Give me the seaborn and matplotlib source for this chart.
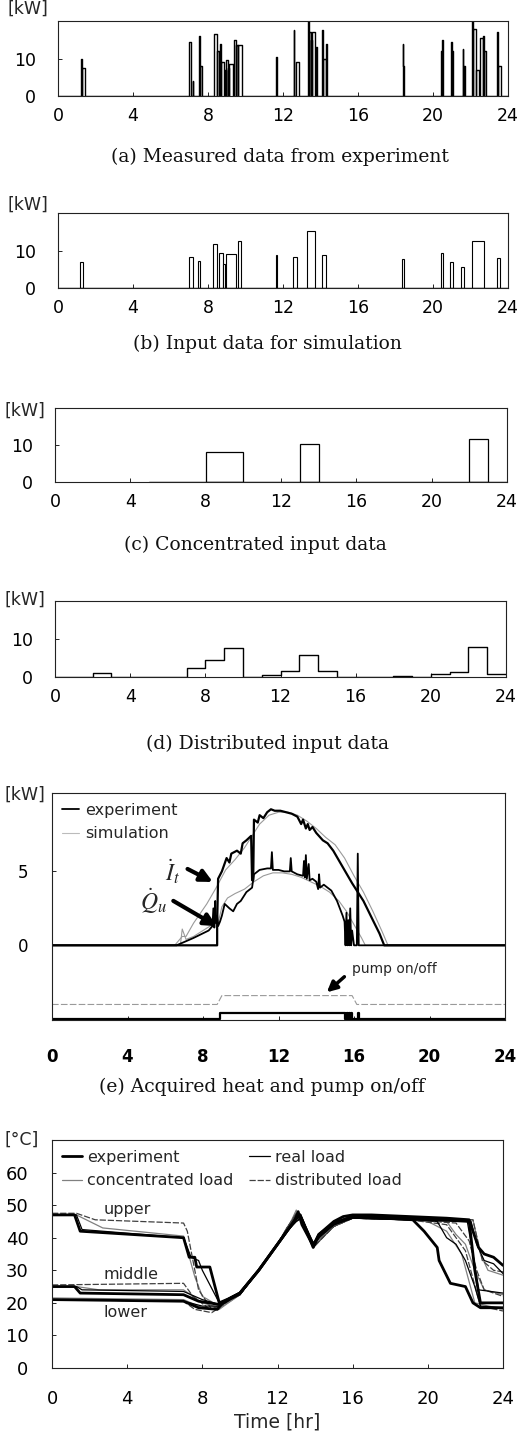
import matplotlib
matplotlib.use("Agg")
import matplotlib.pyplot as plt
from matplotlib.lines import Line2D
import seaborn as sns

sns.set_style("ticks")
plt.rcParams['font.family'] = ['DejaVu Sans']
plt.rcParams['mathtext.fontset'] = 'stix'

W, H = 518, 1437
hours = list(range(0, 25, 4))

# (a) measured load pulses: start [hr], end [hr], power [kW]
a_start = [1.24, 1.30, 7.00, 7.18, 7.52, 7.58, 8.33, 8.48, 8.63, 8.70, 8.90, 8.96, 9.05, 9.12,
           9.36, 9.50, 9.62, 11.65, 12.57, 12.68, 13.33, 13.40, 13.47, 13.56, 13.75, 14.08, 14.15,
           14.31, 18.38, 18.42, 20.42, 20.50, 20.96, 21.02, 21.58, 21.64, 22.08, 22.14, 22.30,
           22.48, 22.66, 22.72, 23.42, 23.48]
a_end = [1.30, 1.45, 7.08, 7.22, 7.56, 7.70, 8.48, 8.58, 8.67, 8.86, 8.96, 9.05, 9.12, 9.35,
         9.47, 9.60, 9.82, 11.70, 12.61, 12.84, 13.37, 13.47, 13.56, 13.72, 13.80, 14.12, 14.28,
         14.35, 18.42, 18.46, 20.47, 20.55, 21.00, 21.06, 21.62, 21.70, 22.12, 22.28, 22.47,
         22.66, 22.72, 22.83, 23.46, 23.60]
a_kw = [10, 7.5, 14.3, 4, 16, 8, 16.5, 12, 14, 9, 7, 9.5, 7.5, 8.5,
        15, 13.5, 13.5, 10.5, 17.5, 9, 20, 17, 15, 17, 13, 17.5, 10,
        14, 14, 8, 12, 15, 14.5, 12, 12.5, 8, 20, 18, 7,
        15.5, 16, 12, 17, 8]

# (b) input data for simulation
b_start = [1.17, 7.00, 7.45, 8.26, 8.56, 8.80, 8.94, 9.60, 11.60, 12.55, 13.30, 14.06, 18.37,
           20.44, 20.92, 21.50, 22.10, 23.40]
b_end = [1.33, 7.18, 7.59, 8.47, 8.78, 8.92, 9.50, 9.77, 11.70, 12.77, 13.70, 14.27, 18.44,
         20.53, 21.06, 21.63, 22.70, 23.58]
b_kw = [7.0, 8.2, 7.1, 11.8, 9.3, 6.5, 9.1, 12.6, 8.9, 8.2, 15.1, 8.7, 7.8, 9.4, 6.9, 5.6, 12.6, 8.1]

# (c) concentrated input
c_start = [8, 13, 22]
c_end = [10, 14, 23]
c_kw = [8.0, 10.2, 11.5]

# (d) distributed input, hourly
d_hour = list(range(24))
d_kw = [0, 0, 1.1, 0, 0, 0, 0, 2.4, 4.6, 7.7, 0, 0.6, 1.6, 5.9, 1.6, 0, 0, 0, 0.3, 0, 0.9, 1.3, 8.0, 0.9]

# (e) acquired heat
it_exp_t = [0, 8.75, 8.75, 8.8, 9.0, 9.25, 9.4, 9.5, 9.8, 10.0, 10.1, 10.3, 10.55, 10.6, 10.66, 10.7,
            10.9, 11.0, 11.2, 11.4, 11.6, 11.8, 12.1, 12.4, 12.7, 13.0, 13.2, 13.3, 13.45, 13.55,
            13.65, 13.8, 14.0, 14.35, 14.6, 14.9, 15.4, 15.9, 16.5, 17.0, 17.35, 17.6, 24]
it_exp_v = [0, 0, 1.5, 4.5, 5.0, 5.9, 5.6, 6.2, 6.4, 6.2, 6.9, 7.1, 7.4, 4.4, 4.4, 8.5,
            8.3, 8.8, 8.6, 9.0, 9.2, 9.1, 9.1, 9.0, 8.9, 8.7, 8.2, 8.5, 7.9, 8.2,
            7.8, 8.0, 7.6, 7.1, 6.9, 6.4, 5.3, 4.2, 3.0, 1.7, 0.8, 0, 0]
it_sim_t = [0, 6.5, 6.9, 7.1, 7.5, 8.2, 8.7, 9.2, 9.7, 10.2, 10.7, 11.0, 11.5, 12.0, 12.5,
            13.0, 13.5, 14.0, 14.5, 15.0, 15.5, 16.0, 16.5, 17.0, 17.5, 17.8, 24]
it_sim_v = [0, 0, 0.6, 0.6, 1.5, 2.8, 3.9, 5.1, 5.8, 6.6, 7.6, 8.2, 8.8, 9.0, 9.0,
            8.8, 8.4, 7.9, 7.3, 6.8, 5.9, 4.7, 3.6, 2.3, 0.9, 0, 0]
qu_exp_t = [0, 6.6, 7.5, 8.3, 8.5, 8.55, 8.6, 8.65, 8.7, 8.75, 8.8, 8.9, 9.0, 9.15, 9.4, 9.6,
            9.8, 10.0, 10.3, 10.6, 10.7, 11.0, 11.4, 11.6, 11.65, 11.7, 12.0, 12.3, 12.6, 12.65,
            12.7, 13.0, 13.3, 13.35, 13.4, 13.45, 13.5, 13.6, 13.65, 13.8, 14.0, 14.1, 14.15, 14.2,
            14.4, 14.8, 15.1, 15.4, 15.5, 15.55, 15.6, 15.65, 15.7, 15.75, 15.8, 15.85, 15.9, 16.0,
            16.15, 16.2, 16.25, 24]
qu_exp_v = [0, 0, 0.5, 1.0, 1.3, 2.5, 1.2, 3.0, 1.5, 2.0, 1.3, 1.6, 2.0, 2.8, 2.5, 2.3,
            2.8, 3.0, 3.6, 3.9, 4.8, 5.1, 5.2, 5.2, 6.3, 5.1, 5.1, 5.0, 5.0, 5.9,
            5.0, 4.8, 4.7, 5.7, 4.6, 6.1, 4.5, 5.5, 4.4, 4.5, 4.3, 3.8, 4.8, 3.9,
            4.1, 3.7, 3.0, 2.0, 1.6, 0, 2.2, 0, 1.7, 0, 2.5, 0, 1.0, 0,
            0, 6.2, 0, 0]
qu_sim_t = [0, 6.8, 6.9, 7.1, 7.5, 8.0, 8.5, 8.8, 9.0, 9.3, 9.7, 10.2, 10.7, 11.2, 11.7, 12.2,
            12.7, 13.2, 13.7, 14.2, 14.7, 15.2, 15.6, 16.0, 16.4, 16.6, 24]
qu_sim_v = [0, 0, 1.1, 0.4, 0.6, 1.0, 1.4, 1.5, 2.6, 3.2, 3.5, 3.8, 4.3, 4.7, 4.9, 4.9,
            4.8, 4.6, 4.3, 4.0, 3.6, 3.0, 2.3, 1.4, 0.5, 0, 0]
pump_exp_t = [0, 8.9, 15.5, 15.55, 15.6, 15.65, 15.7, 15.75, 15.8, 15.85, 15.9, 16.2, 16.25, 24]
pump_exp_v = [-5.0, -4.6, -5.0, -4.6, -5.0, -4.6, -5.0, -4.6, -5.0, -4.6, -5.0, -4.6, -5.0, -5.0]
pump_sim_t = [0, 8.75, 9.0, 15.9, 16.15, 24]
pump_sim_v = [-4.0, -4.0, -3.4, -3.4, -4.0, -4.0]

# (f) tank temperatures
up_exp_t = [0, 1.2, 1.5, 7.0, 7.3, 7.6, 7.7, 8.4, 8.9, 9.5, 10.0, 10.5, 11.0, 11.5, 12.0, 12.5,
            12.9, 13.1, 13.3, 13.9, 14.2, 14.5, 15.0, 15.5, 16.0, 17.0, 19.0, 21.0, 22.2, 22.4,
            22.7, 23.0, 23.5, 24.0]
up_exp_v = [47, 47, 42, 40, 34, 34, 31, 31, 20, 21.5, 23, 26.5, 30, 34, 38, 42,
            45, 48, 44, 37.5, 41, 42.5, 45, 46.5, 47, 47, 46.5, 46, 45.5, 42,
            37, 35, 34, 31.5]
up_real_t = [0, 1.3, 1.6, 7.0, 7.4, 7.8, 8.0, 8.9, 9.5, 10.0, 10.5, 11.0, 11.5, 12.0, 12.5, 13.0,
             13.2, 13.9, 14.3, 15.0, 16.0, 17.0, 19.0, 21.0, 22.3, 22.6, 23.0, 23.5, 24.0]
up_real_v = [47, 47, 42.5, 40, 34, 33, 30, 20, 21.5, 23, 26.5, 30, 34, 38, 42, 45.5,
             46.5, 38, 41, 44, 46.5, 46.5, 46, 45.5, 45, 38, 33, 32, 29]
up_conc_t = [0, 1.3, 2.7, 7.0, 7.6, 8.0, 8.9, 9.5, 10.0, 11.0, 12.0, 12.6, 13.0, 13.2, 13.9, 14.2,
             15.0, 16.0, 18.0, 21.0, 22.4, 22.8, 23.2, 24.0]
up_conc_v = [47, 47, 43, 40.5, 28, 22, 19, 21, 22.5, 30, 38, 43.5, 48.5, 46, 38.5, 39.5,
             43.5, 46.5, 46, 46, 45.5, 35, 30, 28.5]
up_dist_t = [0, 1.3, 2.3, 7.0, 7.2, 7.8, 8.5, 8.9, 9.5, 10.0, 11.0, 12.0, 12.5, 13.0, 13.3, 13.9,
             14.4, 15.0, 16.0, 18.0, 21.0, 22.4, 22.9, 23.5, 24.0]
up_dist_v = [47.5, 47.5, 45.5, 44.5, 42, 24, 18, 19, 21, 22.5, 30, 38, 43, 47.5, 46, 37,
             40, 43.5, 46, 46, 45.5, 45.5, 33, 30, 29.5]

mid_exp_t = [0, 1.2, 1.5, 7.0, 7.8, 8.9, 9.5, 10.0, 11.0, 12.0, 12.5, 13.0, 13.2, 13.9, 14.2,
             15.0, 16.0, 19.0, 22.2, 22.5, 22.8, 24.0]
mid_exp_v = [25, 25, 23, 22.5, 20.5, 19.5, 21.5, 23, 30, 38, 42, 46, 47, 37.5, 41,
             44.5, 46.5, 46, 45, 30, 20, 20]
mid_real_t = [0, 1.3, 1.6, 7.0, 8.0, 8.9, 9.5, 10.0, 11.0, 12.0, 12.5, 13.0, 13.3, 13.9, 14.3,
              15.0, 16.0, 19.0, 22.1, 22.4, 22.7, 24.0]
mid_real_v = [25, 25, 24, 23.5, 21, 19.5, 21.5, 23, 30, 38, 42, 45, 46, 38.5, 40.5,
              44, 46, 45.5, 45, 35, 24, 23]
mid_conc_t = [0, 1.3, 2.5, 7.0, 8.0, 8.9, 9.5, 10.0, 11.0, 12.0, 12.6, 13.0, 13.2, 13.9, 14.2,
              15.0, 16.0, 19.0, 21.0, 21.5, 22.0, 22.5, 23.0, 24.0]
mid_conc_v = [25, 25, 24, 24, 20, 18.5, 20.5, 22.5, 30, 38, 43.5, 47, 46, 38.5, 39.5,
              43.5, 46, 45.5, 45, 41, 38, 30, 24, 22.5]
mid_dist_t = [0, 7.0, 7.5, 8.4, 8.9, 9.5, 10.0, 11.0, 12.0, 12.5, 13.0, 13.3, 13.9, 14.4,
              15.0, 16.0, 19.0, 21.5, 22.2, 22.6, 23.0, 24.0]
mid_dist_v = [25.5, 26, 22, 18, 19, 21, 22.5, 30, 38, 43, 47, 46, 37, 40,
              43.5, 46, 45.5, 44.5, 39, 30, 24, 22]

low_exp_t = [0, 7.0, 7.8, 8.8, 9.0, 9.5, 10.0, 11.0, 12.0, 12.5, 13.0, 13.2, 13.9, 14.2, 15.0,
             16.0, 19.2, 19.8, 20.5, 20.6, 21.2, 22.0, 22.4, 22.8, 24.0]
low_exp_v = [21, 20.5, 18.5, 18, 19.5, 21.5, 23, 30, 38, 42, 46, 47, 37, 40.5, 44.5,
             46.5, 45.5, 42, 37, 33, 26, 25, 20, 18.5, 18.5]
low_real_t = [0, 7.0, 8.0, 8.9, 9.5, 10.0, 11.0, 12.0, 12.5, 13.0, 13.2, 13.9, 14.3, 15.0,
              16.0, 19.5, 20.5, 21.0, 21.5, 22.0, 22.5, 22.8, 24.0]
low_real_v = [21, 20.5, 19, 19, 21, 22.5, 30, 38, 42, 45, 46, 38, 40.5, 44,
              46, 45.5, 45, 40, 38, 33, 25, 19, 18.5]
low_conc_t = [0, 7.0, 8.0, 8.9, 9.5, 10.0, 11.0, 12.0, 12.6, 13.0, 13.2, 13.9, 14.2, 15.0,
              16.0, 19.0, 20.0, 21.0, 21.8, 22.5, 24.0]
low_conc_v = [21.5, 21, 18.5, 18, 20.5, 22.5, 30, 38, 43.5, 48, 46, 38.5, 39.5, 43.5,
              46, 45.5, 45, 42, 35, 20, 18]
low_dist_t = [0, 7.0, 7.6, 8.5, 8.9, 9.5, 10.0, 11.0, 12.0, 12.5, 13.0, 13.3, 13.9, 14.4,
              15.0, 16.0, 19.0, 21.0, 22.0, 22.8, 24.0]
low_dist_v = [21, 20.5, 18, 17, 18.5, 21, 22.5, 30, 38, 43, 47, 46, 37, 40,
              43.5, 46, 45.5, 44, 36, 19, 17.5]

fig = plt.figure(figsize=(W / 100, H / 100), dpi=100)


def px_axes(left, top, right, bottom):
    return fig.add_axes([left / W, 1 - bottom / H, (right - left) / W, (bottom - top) / H])


def px_text(x, y, s, **kw):
    fig.text(x / W, 1 - y / H, s, **kw)


def style_axes(ax, xpad=8, ypad=16, bold=False, size=12.5):
    ax.set_xlim(0, 24)
    ax.set_xticks(hours)
    ax.tick_params(direction='in', length=3, width=0.6, labelsize=size, colors='black')
    ax.tick_params(axis='x', pad=xpad)
    ax.tick_params(axis='y', pad=ypad)
    for sp in ax.spines.values():
        sp.set_linewidth(0.8)
        sp.set_color('#222222')
    if bold:
        for lab in ax.get_xticklabels():
            lab.set_fontweight('bold')


def pulses(starts, ends, vals):
    xs, ys = [], []
    for s, e, v in zip(starts, ends, vals):
        xs += [s, s, e, e]
        ys += [0, v, v, 0]
    return xs, ys


cap_kw = dict(family='DejaVu Serif', fontsize=13.5, ha='center', va='center', color='#111111')

# (a)
ax = px_axes(58, 21, 508, 96)
xs, ys = pulses(a_start, a_end, a_kw)
xs = [0] + xs + [24]
ys = [0] + ys + [0]
sns.lineplot(x=xs, y=ys, ax=ax, color='black', lw=1.0, estimator=None, sort=False)
ax.set_ylim(0, 20)
ax.set_yticks([0, 10])
style_axes(ax)
px_text(28, 9, '[kW]', fontsize=12.5, ha='center', va='center')
px_text(280, 157, '(a) Measured data from experiment', **cap_kw)

# (b)
ax = px_axes(58, 213, 508, 288)
widths = [e - s for s, e in zip(b_start, b_end)]
ax.bar(b_start, b_kw, width=widths, align='edge', facecolor='white', edgecolor='black', lw=0.8)
ax.axhline(0, color='black', lw=1.0)
ax.set_ylim(0, 20)
ax.set_yticks([0, 10])
style_axes(ax)
px_text(28, 205, '[kW]', fontsize=12.5, ha='center', va='center')
px_text(267, 344, '(b) Input data for simulation', **cap_kw)

# (c)
ax = px_axes(55, 408, 507, 482)
widths = [e - s for s, e in zip(c_start, c_end)]
ax.bar(c_start, c_kw, width=widths, align='edge', facecolor='white', edgecolor='black', lw=0.9)
ax.axhline(0, xmin=5 / 24, xmax=1, color='black', lw=1.0)
ax.set_ylim(0, 20)
ax.set_yticks([0, 10])
style_axes(ax)
px_text(25, 411, '[kW]', fontsize=12.5, ha='center', va='center')
px_text(255, 545, '(c) Concentrated input data', **cap_kw)

# (d)
ax = px_axes(55, 601, 506, 677)
sns.histplot(x=d_hour, weights=d_kw, bins=list(range(25)), element='step', fill=False,
             color='black', lw=1.0, ax=ax)
ax.set_ylabel('')
ax.set_ylim(0, 20)
ax.set_yticks([0, 10])
style_axes(ax)
px_text(25, 600, '[kW]', fontsize=12.5, ha='center', va='center')
px_text(267, 744, '(d) Distributed input data', **cap_kw)

# (e)
ax = px_axes(52, 793, 505, 1020)
sim_c = '#9a9a9a'
sns.lineplot(x=it_sim_t, y=it_sim_v, ax=ax, color=sim_c, lw=0.8, estimator=None, sort=False)
sns.lineplot(x=qu_sim_t, y=qu_sim_v, ax=ax, color=sim_c, lw=0.8, estimator=None, sort=False)
sns.lineplot(x=it_exp_t, y=it_exp_v, ax=ax, color='black', lw=1.6, estimator=None, sort=False)
sns.lineplot(x=qu_exp_t, y=qu_exp_v, ax=ax, color='black', lw=1.3, estimator=None, sort=False)
sns.lineplot(x=pump_sim_t, y=pump_sim_v, ax=ax, color=sim_c, lw=0.8, linestyle=(0, (6, 2)),
             estimator=None, sort=False)
sns.lineplot(x=pump_exp_t, y=pump_exp_v, ax=ax, color='black', lw=1.6, drawstyle='steps-post',
             estimator=None, sort=False)
ax.set_ylim(-5.05, 10.3)
ax.set_yticks([0, 5])
style_axes(ax, xpad=20, ypad=17, bold=True, size=12)
ax.text(6.4, 5.0, r'$\dot{I}_t$', fontsize=17, ha='center', va='center')
ax.annotate('', xy=(8.65, 4.2), xytext=(7.05, 5.25),
            arrowprops=dict(arrowstyle='-|>', lw=3, color='black', mutation_scale=18))
ax.text(5.4, 3.0, r'$\dot{Q}_u$', fontsize=17, ha='center', va='center')
ax.annotate('', xy=(8.85, 1.2), xytext=(6.3, 3.1),
            arrowprops=dict(arrowstyle='-|>', lw=3, color='black', mutation_scale=18))
ax.text(15.9, -1.6, 'pump on/off', fontsize=10, ha='left', va='center')
ax.annotate('', xy=(14.45, -3.3), xytext=(15.6, -2.0),
            arrowprops=dict(arrowstyle='-|>', lw=2.5, color='black', mutation_scale=15))
h_e = [Line2D([], [], color='black', lw=1.3), Line2D([], [], color='#bbbbbb', lw=0.8)]
ax.legend(h_e, ['experiment', 'simulation'], loc='upper left', frameon=False, fontsize=11.5,
          handlelength=1.1, handletextpad=0.35, labelspacing=0.55, borderaxespad=0.2,
          bbox_to_anchor=(0.0, 1.0))
px_text(25, 795, '[kW]', fontsize=12.5, ha='center', va='center')
px_text(262, 1087, '(e) Acquired heat and pump on/off', **cap_kw)

# (f)
ax = px_axes(52, 1140, 503, 1368)
exp_kw = dict(color='black', lw=2.0)
real_kw = dict(color='black', lw=0.9)
conc_kw = dict(color='#808080', lw=0.9)
dist_kw = dict(color='#404040', lw=0.9, linestyle=(0, (5, 1.5)))
series = [
    (up_conc_t, up_conc_v, conc_kw), (mid_conc_t, mid_conc_v, conc_kw), (low_conc_t, low_conc_v, conc_kw),
    (up_dist_t, up_dist_v, dist_kw), (mid_dist_t, mid_dist_v, dist_kw), (low_dist_t, low_dist_v, dist_kw),
    (up_real_t, up_real_v, real_kw), (mid_real_t, mid_real_v, real_kw), (low_real_t, low_real_v, real_kw),
    (up_exp_t, up_exp_v, exp_kw), (mid_exp_t, mid_exp_v, exp_kw), (low_exp_t, low_exp_v, exp_kw),
]
for t, v, kw in series:
    sns.lineplot(x=t, y=v, ax=ax, estimator=None, sort=False, **kw)
ax.set_ylim(0, 70)
ax.set_yticks(range(0, 61, 10))
style_axes(ax, xpad=16, ypad=17, size=13)
ax.set_xlabel('Time [hr]', fontsize=13.5, labelpad=3)
ax.text(2.75, 48.6, 'upper', fontsize=11.5, ha='left', va='center')
ax.text(2.75, 28.6, 'middle', fontsize=11.5, ha='left', va='center')
ax.text(2.75, 17.0, 'lower', fontsize=11.5, ha='left', va='center')
h_f = [Line2D([], [], **exp_kw), Line2D([], [], **conc_kw),
       Line2D([], [], **real_kw), Line2D([], [], **dist_kw)]
ax.legend(h_f, ['experiment', 'concentrated load', 'real load', 'distributed load'],
          loc='upper left', ncol=2, frameon=False, fontsize=11.5, handlelength=1.3,
          handletextpad=0.3, columnspacing=1.0, labelspacing=0.55, borderaxespad=0.2)
px_text(22, 1140, '[°C]', fontsize=12.5, ha='center', va='center')

fig.savefig('out.png', dpi=100)
